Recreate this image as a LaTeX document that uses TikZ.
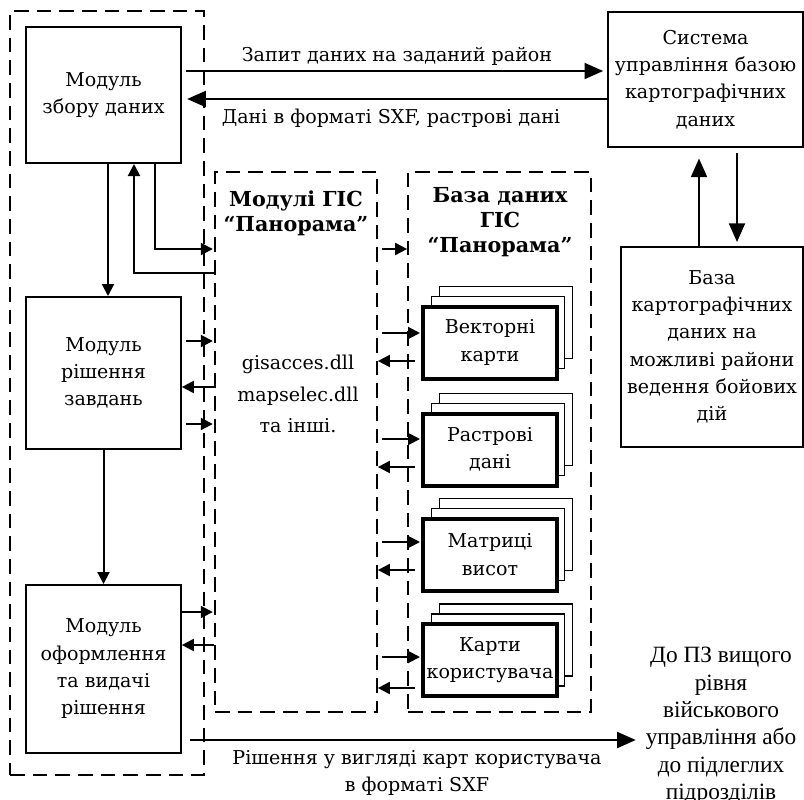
\documentclass[tikz,border=0pt]{standalone}
\usepackage{fontspec}
\setmainfont{DejaVu Serif}
\newfontfamily\timesfont{Liberation Serif}
\usetikzlibrary{arrows.meta, positioning, shadows}

\begin{document}
\begin{tikzpicture}[x=0.75pt, y=-0.75pt,
    box/.style={draw, line width=1.5pt, align=center, inner sep=2pt, font=\fontsize{14.3}{20.5}\selectfont},
    groupbox/.style={draw, line width=1.3pt, dash pattern=on 11pt off 6pt, inner sep=0pt},
    grouptitle/.style={align=center, font=\bfseries\fontsize{15.5}{18.5}\selectfont},
    stackbox/.style={draw, line width=3pt, fill=white, minimum width=100pt, minimum height=54pt, align=center, inner sep=1pt,
      font=\fontsize{14.3}{20.5}\selectfont,
      general shadow={shadow xshift=12pt, shadow yshift=15pt, draw=black, fill=white, line width=1.2pt},
      general shadow={shadow xshift=6pt, shadow yshift=7.5pt, draw=black, fill=white, line width=1.2pt}},
    lbl/.style={align=center, font=\fontsize{14.3}{20.5}\selectfont},
    farlbl/.style={align=center, font=\timesfont\fontsize{17.5}{20.5}\selectfont},
    arrow/.style={-{Triangle[length=9pt, width=9pt]}, line width=1.5pt},
    bigarrow/.style={-{Triangle[length=14pt, width=12pt]}, line width=1.5pt}
  ]
    \useasboundingbox (0,0) rectangle (804,800);

    % Groups (dashed)
    \node[groupbox, minimum width=145.5pt, minimum height=573pt] (client) at (107,393) {};
    \node[groupbox, minimum width=121.5pt, minimum height=405pt] (gismod) at (296,442) {};
    \node[groupbox, minimum width=137.25pt, minimum height=405pt] (gisdb) at (499.5,442) {};

    % Nodes (left column)
    \node[box, minimum width=116pt, minimum height=102pt] (collect) at (103.5,95) {Модуль\\збору даних};
    \node[box, minimum width=116pt, minimum height=114pt] (solve) at (103.5,373) {Модуль\\рішення\\завдань};
    \node[box, minimum width=116pt, minimum height=126pt] (issue) at (103.5,669) {Модуль\\оформлення\\та видачі\\рішення};

    % Nodes (GIS modules)
    \node[grouptitle] (gismodtitle) at (296,213) {Модулі ГІС\\“Панорама”};
    \node[lbl] (dlls) at (298,394) {gisacces.dll\\[3pt]mapselec.dll\\[3pt]та інші.};

    % Nodes (GIS database)
    \node[grouptitle] (gisdbtitle) at (500,222) {База даних\\ГІС\\“Панорама”};
    \node[stackbox] (vect) at (490,342.5) {Векторні\\карти};
    \node[stackbox] (raster) at (490,449.5) {Растрові\\дані};
    \node[stackbox] (matrix) at (490,554.5) {Матриці\\висот};
    \node[stackbox] (usermap) at (490,660) {Карти\\користувача};

    % Nodes (right column)
    \node[box, minimum width=146pt, minimum height=101pt] (system) at (705.5,79.5) {Система\\управління базою\\картографічних\\даних};
    \node[box, minimum width=136.5pt, minimum height=150pt] (mapdb) at (712,347) {База\\картографічних\\даних на\\можливі райони\\ведення бойових\\дій};
    \node[farlbl] (upper) at (721,726) {До ПЗ вищого\\рівня\\військового\\управління або\\до підлеглих\\підрозділів};

    % Labels
    \node[lbl] (reqlbl) at (397,56) {Запит даних на заданий район};
    \node[lbl] (resplbl) at (391,118) {Дані в форматі SXF, растрові дані};
    \node[lbl] (outlbl) at (417,773) {Рішення у вигляді карт користувача\\в форматі SXF};

    % Connections
    \draw[bigarrow, shorten <=3pt, shorten >=3pt] (collect.east |- 0,71) -- (system.west |- 0,71);
    \draw[bigarrow, shorten >=4pt] (system.west |- 0,99) -- (collect.east |- 0,99);
    \draw[bigarrow, shorten >=8pt] (mapdb.north -| 699,0) -- (system.south -| 699,0);
    \draw[bigarrow, shorten <=4pt, shorten >=3pt] (system.south -| 737,0) -- (mapdb.north -| 737,0);

    \draw[arrow] (collect.south -| 108,0) -- (solve.north -| 108,0);
    \draw[arrow] (solve.south) -- (issue.north);
    \draw[arrow, shorten >=1pt] (collect.south -| 155,0) |- (gismod.west |- 0,249);
    \draw[arrow] (gismod.west |- 0,273) -| (collect.south -| 134,0);

    \draw[arrow, shorten <=3pt, shorten >=1pt] (solve.east |- 0,341) -- (gismod.west |- 0,341);
    \draw[arrow] (gismod.west |- 0,387) -- (solve.east |- 0,387);
    \draw[arrow, shorten <=3pt, shorten >=1pt] (solve.east |- 0,424) -- (gismod.west |- 0,424);
    \draw[arrow, shorten >=1pt] (issue.east |- 0,612) -- (gismod.west |- 0,612);
    \draw[arrow] (gismod.west |- 0,645) -- (issue.east |- 0,645);

    \draw[arrow, shorten <=3pt] (gismod.east |- 0,249) -- (gisdb.west |- 0,249);

    \draw[arrow, shorten <=3pt, shorten >=1pt] (gismod.east |- 0,333) -- (vect.west |- 0,333);
    \draw[arrow, shorten <=5pt] (vect.west |- 0,361) -- (gismod.east |- 0,361);
    \draw[arrow, shorten <=3pt, shorten >=1pt] (gismod.east |- 0,439) -- (raster.west |- 0,439);
    \draw[arrow, shorten <=5pt] (raster.west |- 0,467) -- (gismod.east |- 0,467);
    \draw[arrow, shorten <=3pt, shorten >=1pt] (gismod.east |- 0,542) -- (matrix.west |- 0,542);
    \draw[arrow, shorten <=5pt] (matrix.west |- 0,570) -- (gismod.east |- 0,570);
    \draw[arrow, shorten <=3pt, shorten >=1pt] (gismod.east |- 0,657) -- (usermap.west |- 0,657);
    \draw[arrow, shorten <=5pt] (usermap.west |- 0,688) -- (gismod.east |- 0,688);

    \draw[bigarrow, shorten <=6pt, shorten >=4pt] (issue.east |- 0,740) -- (upper.west |- 0,740);

  \end{tikzpicture}
\end{document}
